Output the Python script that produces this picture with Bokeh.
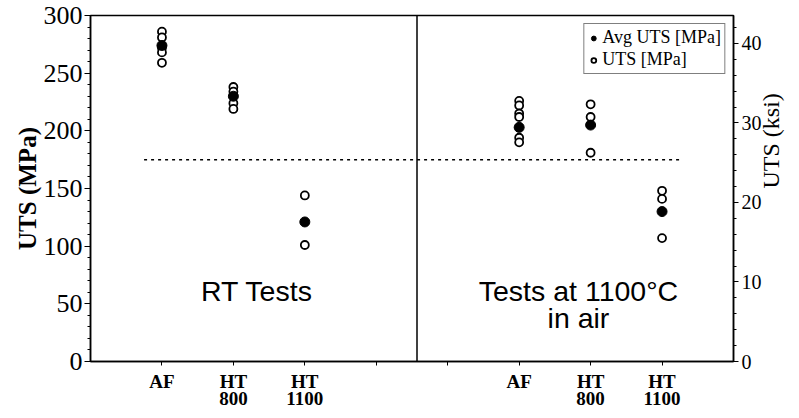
import math
from bokeh.plotting import figure
from bokeh.models import (Range1d, LinearAxis, FixedTicker, Span, Legend,
                          LegendItem, Label)
from bokeh.embed import file_html
from bokeh.resources import INLINE

# ---- data ----
tick_positions = [1, 2, 3, 4, 5, 6, 7, 8]
cat_labels = {1: "AF", 2: "HT\n800", 3: "HT\n1100", 4: "", 5: "",
              6: "AF", 7: "HT\n800", 8: "HT\n1100"}
uts_x = [1, 1, 1, 1, 1, 2, 2, 2, 2, 3, 3, 6, 6, 6, 6, 6, 6, 7, 7, 7, 8, 8, 8]
uts_vals = [286, 281, 272, 268, 259,
            238, 234, 224, 219,
            144, 101,
            226, 222, 215, 212, 194, 190,
            223, 212, 181,
            148, 141, 107]
avg_x = [1, 2, 3, 6, 7, 8]
avg_vals = [274, 230, 121, 203, 205, 130]
threshold_x = [0.75, 8.25]
threshold_y = [175, 175]
divider_x = 4.57
MPA_PER_KSI = 6.895
y_max = 300

serif = "Liberation Serif"
sans = "Liberation Sans"

p = figure(width=799, height=418, output_backend="svg", toolbar_location=None,
           x_range=Range1d(0, 9), y_range=Range1d(0, y_max),
           min_border_left=90, min_border_right=66, min_border_top=15,
           min_border_bottom=57)
p.grid.visible = False
p.outline_line_color = "black"
p.outline_line_width = 1.5

# x axis
xa = p.xaxis[0]
xa.ticker = FixedTicker(ticks=tick_positions)
xa.major_label_overrides = cat_labels
xa.major_label_text_font = serif
xa.major_label_text_font_style = "bold"
xa.major_label_text_font_size = "19px"
xa.major_label_text_color = "black"
xa.major_label_text_line_height = 0.85
xa.major_label_standoff = 5
xa.major_tick_out = 4
xa.major_tick_in = 0
xa.minor_tick_line_color = None
xa.axis_line_width = 1.5

# left y axis
ya = p.yaxis[0]
ya.ticker = FixedTicker(ticks=[0, 50, 100, 150, 200, 250, 300],
                        minor_ticks=list(range(0, 301, 10)))
ya.axis_label = "UTS (MPa)"
ya.axis_label_text_font = serif
ya.axis_label_text_font_style = "bold"
ya.axis_label_text_font_size = "25px"
ya.axis_label_text_color = "black"
ya.axis_label_text_line_height = 0.8
ya.axis_label_standoff = 0
ya.major_label_text_font = serif
ya.major_label_text_font_size = "26px"
ya.major_label_text_color = "black"
ya.major_label_standoff = 2
ya.major_tick_out = 6
ya.major_tick_in = 0
ya.minor_tick_out = 3
ya.minor_tick_in = 0
ya.axis_line_width = 1.5

# right y axis in ksi
p.extra_y_ranges = {"ksi": Range1d(0, y_max / MPA_PER_KSI)}
ra = LinearAxis(y_range_name="ksi",
                ticker=FixedTicker(ticks=[0, 10, 20, 30, 40],
                                   minor_ticks=list(range(0, 44, 2))))
ra.axis_label = "UTS (ksi)"
ra.axis_label_orientation = math.pi / 2
ra.axis_label_text_font = serif
ra.axis_label_text_font_style = "normal"
ra.axis_label_text_font_size = "24px"
ra.axis_label_text_color = "black"
ra.axis_label_text_line_height = 0.8
ra.axis_label_standoff = 6
ra.major_label_text_font = serif
ra.major_label_text_font_size = "20px"
ra.major_label_text_color = "black"
ra.major_label_standoff = 3
ra.major_tick_out = 5
ra.major_tick_in = 0
ra.minor_tick_out = 3
ra.minor_tick_in = 0
ra.axis_line_width = 1.5
p.add_layout(ra, "right")

# reference lines
p.line(threshold_x, threshold_y, line_color="black", line_width=1.5,
       line_dash="3 4")
p.add_layout(Span(location=divider_x, dimension="height", line_color="black",
                  line_width=1.5))

# points
r_uts = p.scatter(uts_x, uts_vals, marker="circle", size=8, fill_color="white",
                  line_color="black", line_width=1.8)
r_avg = p.scatter(avg_x, avg_vals, marker="circle", size=10, fill_color="black",
                  line_color="black")

# text annotations
p.add_layout(Label(x=2.33, y=47, text="RT Tests", text_align="center",
                   text_font=sans, text_font_size="28.5px", text_color="black"))
p.add_layout(Label(x=6.83, y=47, text="Tests at 1100°C", text_align="center",
                   text_font=sans, text_font_size="28.5px", text_color="black"))
p.add_layout(Label(x=6.83, y=24, text="in air", text_align="center",
                   text_font=sans, text_font_size="28.5px", text_color="black"))

legend = Legend(items=[LegendItem(label="Avg UTS [MPa]", renderers=[r_avg]),
                       LegendItem(label="UTS [MPa]", renderers=[r_uts])],
                location="top_right")
legend.label_text_font = serif
legend.label_text_font_size = "18px"
legend.label_text_color = "black"
legend.label_height = 18
legend.glyph_height = 18
legend.glyph_width = 12
legend.spacing = 1
legend.padding = 3
legend.margin = 8
legend.label_standoff = 3
legend.border_line_color = "black"
legend.border_line_width = 1.5
p.add_layout(legend)

open("out.html", "w").write(file_html(p, INLINE))
